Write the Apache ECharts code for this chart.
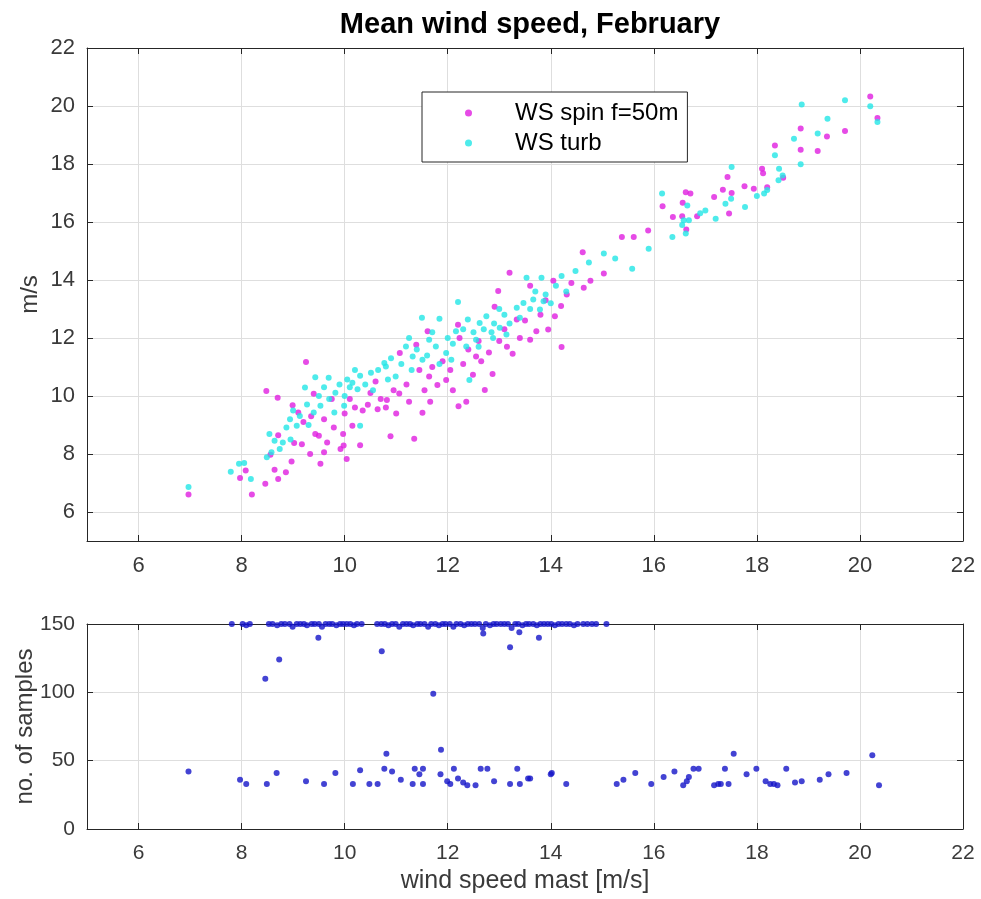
<!DOCTYPE html>
<html>
<head>
<meta charset="utf-8">
<title>Mean wind speed, February</title>
<script src="https://cdn.jsdelivr.net/npm/echarts@6/dist/echarts.min.js"></script>
<style>
html, body { margin: 0; padding: 0; background: #fff; }
#main { width: 981px; height: 899px; }
</style>
</head>
<body>
<div id="main"></div>
<script>
var xTicks = [6, 8, 10, 12, 14, 16, 18, 20, 22];
var wsTicks = [6, 8, 10, 12, 14, 16, 18, 20, 22];
var nTicks = [0, 50, 100, 150];

// [wind speed mast, WS spin f=50m]
var spinPts = [
    [6.97, 6.6], [7.97, 7.17], [8.08, 7.43], [8.2, 6.6], [8.46, 6.97], [8.56, 7.97], [8.64, 7.46],
    [8.71, 7.14], [8.86, 7.37], [8.97, 7.74], [8.71, 8.65], [8.48, 10.17], [8.7, 9.94], [8.99, 9.68],
    [9.1, 9.43], [9.02, 8.38], [9.17, 8.34], [9.2, 9.1], [9.25, 11.17], [9.35, 9.3], [9.4, 10.08],
    [9.33, 8.0], [9.43, 8.69], [9.5, 8.63], [9.53, 7.66], [9.6, 8.06], [9.6, 9.2], [9.66, 8.4],
    [9.75, 9.9], [9.79, 8.91], [9.92, 8.17], [9.97, 8.69], [9.98, 8.29], [10.0, 9.4], [10.04, 7.83],
    [10.1, 9.9], [10.15, 8.97], [10.2, 9.6], [10.3, 8.3], [10.35, 9.5], [10.45, 9.7], [10.5, 10.1],
    [10.6, 10.5], [10.64, 9.54], [10.7, 9.9], [10.8, 9.6], [10.82, 9.86], [10.89, 8.61], [10.95, 10.2],
    [11.0, 9.4], [11.06, 10.09], [11.07, 11.48], [11.2, 10.4], [11.25, 9.8], [11.35, 8.53], [11.39, 11.77],
    [11.45, 10.9], [11.51, 9.42], [11.55, 10.2], [11.61, 12.23], [11.64, 10.67], [11.66, 9.8], [11.7, 11.0],
    [11.8, 10.38], [11.9, 11.2], [11.97, 10.55], [12.05, 10.9], [12.1, 10.2], [12.2, 12.46], [12.21, 9.65],
    [12.23, 12.0], [12.3, 11.1], [12.36, 9.8], [12.4, 11.6], [12.49, 10.73], [12.55, 11.36], [12.6, 11.9],
    [12.65, 11.2], [12.72, 10.21], [12.8, 11.5], [12.87, 10.76], [12.91, 13.08], [12.98, 13.62], [13.0, 11.9],
    [13.1, 12.3], [13.15, 11.7], [13.2, 14.25], [13.26, 11.46], [13.34, 12.64], [13.4, 12.0], [13.5, 12.6],
    [13.6, 11.94], [13.6, 13.8], [13.72, 12.23], [13.8, 12.8], [13.9, 13.3], [13.95, 12.29], [14.05, 13.97],
    [14.08, 12.75], [14.2, 13.1], [14.21, 11.69], [14.31, 13.5], [14.4, 13.9], [14.62, 14.96], [14.64, 13.73],
    [14.77, 13.97], [15.03, 14.22], [15.38, 15.48], [15.61, 15.48], [15.89, 15.71], [16.17, 16.54], [16.37, 16.17],
    [16.55, 16.2], [16.56, 16.66], [16.62, 17.03], [16.63, 15.74], [16.71, 16.98], [16.84, 16.2], [17.17, 16.86],
    [17.34, 17.11], [17.43, 17.55], [17.46, 16.29], [17.51, 17.0], [17.76, 17.23], [17.94, 17.15], [18.1, 17.84],
    [18.12, 17.68], [18.2, 17.2], [18.35, 18.64], [18.51, 17.53], [18.85, 19.22], [18.85, 18.49], [19.18, 18.45],
    [19.36, 18.95], [19.71, 19.14], [20.2, 20.33], [20.34, 19.59]
];

// [wind speed mast, WS turb]
var turbPts = [
    [6.97, 6.86], [7.79, 7.39], [7.95, 7.66], [8.05, 7.69], [8.18, 7.14], [8.49, 7.89], [8.54, 8.69],
    [8.58, 8.06], [8.64, 8.46], [8.74, 8.17], [8.8, 8.4], [8.87, 8.91], [8.94, 9.2], [8.95, 8.5],
    [9.0, 9.5], [9.07, 8.97], [9.13, 9.31], [9.23, 10.29], [9.27, 9.71], [9.3, 9.0], [9.4, 9.43],
    [9.43, 10.65], [9.5, 10.0], [9.53, 9.66], [9.6, 10.3], [9.69, 10.63], [9.7, 9.9], [9.8, 9.43],
    [9.82, 10.11], [9.9, 10.4], [9.99, 9.66], [10.0, 10.0], [10.05, 10.57], [10.1, 10.3], [10.15, 10.46],
    [10.2, 10.9], [10.25, 10.23], [10.3, 10.7], [10.3, 8.97], [10.4, 10.4], [10.51, 10.8], [10.55, 10.2],
    [10.65, 10.9], [10.77, 11.14], [10.8, 11.02], [10.84, 10.57], [10.9, 11.3], [10.99, 10.67], [11.1, 11.1],
    [11.19, 11.71], [11.25, 12.0], [11.3, 10.9], [11.32, 11.36], [11.4, 11.6], [11.5, 12.7], [11.51, 11.25],
    [11.6, 11.4], [11.64, 11.94], [11.7, 12.2], [11.77, 11.71], [11.84, 11.1], [11.84, 12.66], [11.97, 11.48],
    [12.0, 12.0], [12.07, 11.25], [12.1, 11.8], [12.16, 12.23], [12.2, 13.24], [12.3, 12.3], [12.36, 11.71],
    [12.39, 12.64], [12.42, 10.55], [12.5, 12.2], [12.55, 11.94], [12.6, 11.7], [12.62, 12.52], [12.7, 12.3],
    [12.75, 12.75], [12.85, 12.2], [12.88, 12.0], [12.9, 12.5], [13.0, 13.0], [13.01, 12.35], [13.1, 12.8],
    [13.14, 12.12], [13.2, 12.5], [13.34, 13.04], [13.4, 12.7], [13.47, 13.21], [13.53, 14.08], [13.6, 13.0],
    [13.66, 13.33], [13.7, 13.6], [13.79, 12.98], [13.82, 14.08], [13.86, 13.27], [13.9, 13.5], [14.0, 13.2],
    [14.1, 13.8], [14.21, 14.14], [14.3, 13.6], [14.48, 14.31], [14.74, 14.6], [15.03, 14.91], [15.25, 14.74],
    [15.58, 14.39], [15.9, 15.08], [16.16, 16.98], [16.36, 15.48], [16.55, 15.9], [16.58, 16.06], [16.62, 15.6],
    [16.65, 16.57], [16.68, 16.06], [16.9, 16.3], [17.0, 16.4], [17.2, 16.11], [17.39, 16.63], [17.5, 16.8],
    [17.51, 17.9], [17.77, 16.52], [18.0, 16.9], [18.14, 16.98], [18.2, 17.1], [18.35, 18.3], [18.42, 17.44],
    [18.43, 17.84], [18.5, 17.6], [18.72, 18.87], [18.85, 17.99], [18.87, 20.05], [19.18, 19.05], [19.37, 19.56],
    [19.71, 20.2], [20.2, 19.99], [20.34, 19.45]
];

// [wind speed mast, no. of samples]
var samplePts = [
    [7.81, 150], [8.02, 150], [8.09, 149], [8.16, 150], [8.53, 150], [8.6, 150], [8.69, 149], [8.77, 150],
    [8.84, 150], [8.93, 150], [8.99, 148], [9.07, 150], [9.14, 150], [9.21, 150], [9.27, 149], [9.36, 150],
    [9.42, 150], [9.5, 150], [9.56, 148], [9.63, 150], [9.7, 150], [9.76, 150], [9.84, 149], [9.91, 150],
    [9.97, 150], [10.04, 150], [10.11, 150], [10.18, 149], [10.24, 150], [10.33, 150], [10.63, 150], [10.71, 150],
    [10.78, 150], [10.85, 149], [10.92, 150], [10.99, 150], [11.06, 148], [11.13, 150], [11.2, 150], [11.27, 150],
    [11.33, 149], [11.41, 150], [11.47, 150], [11.55, 150], [11.62, 148], [11.68, 150], [11.76, 150], [11.83, 149],
    [11.9, 150], [11.96, 150], [12.04, 150], [12.11, 148], [12.17, 150], [12.25, 150], [12.32, 149], [12.39, 150],
    [12.46, 150], [12.53, 150], [12.61, 150], [12.68, 147], [12.74, 150], [12.82, 149], [12.89, 150], [12.95, 150],
    [13.03, 150], [13.1, 150], [13.17, 150], [13.24, 147], [13.31, 150], [13.37, 150], [13.45, 149], [13.52, 150],
    [13.58, 150], [13.66, 150], [13.73, 149], [13.8, 150], [13.87, 150], [13.94, 150], [14.01, 150], [14.08, 149],
    [14.15, 150], [14.22, 150], [14.3, 150], [14.37, 150], [14.45, 149], [14.52, 150], [14.63, 150], [14.71, 150],
    [14.8, 150], [14.88, 150], [15.08, 150],
    [8.46, 110], [8.73, 124], [9.49, 140], [10.72, 130], [11.72, 99], [12.69, 143], [13.21, 133], [13.39, 144],
    [13.77, 140],
    [6.97, 42], [7.97, 36], [8.09, 33], [8.49, 33], [8.68, 41], [9.25, 35], [9.6, 33], [9.82, 41],
    [10.16, 33], [10.3, 43], [10.48, 33], [10.64, 33], [10.81, 55], [10.77, 44], [10.92, 42], [11.09, 36],
    [11.32, 33], [11.36, 44], [11.45, 40], [11.52, 44], [11.52, 33], [11.87, 58], [11.86, 40], [11.99, 35],
    [12.05, 33], [12.12, 44], [12.2, 37], [12.3, 34], [12.38, 32], [12.54, 32], [12.64, 44], [12.77, 44],
    [12.9, 35], [13.21, 33], [13.35, 44], [13.4, 33], [13.56, 37], [13.6, 37], [14.0, 40], [14.02, 41],
    [14.3, 33], [15.28, 33], [15.41, 36], [15.64, 41], [15.95, 33], [16.19, 38], [16.4, 42], [16.57, 32],
    [16.64, 35], [16.68, 38], [16.77, 44], [16.87, 44], [17.17, 32], [17.25, 33], [17.3, 33], [17.45, 33],
    [17.38, 44], [17.55, 55], [17.8, 40], [17.99, 44], [18.17, 35], [18.26, 33], [18.33, 33], [18.4, 32],
    [18.57, 44], [18.74, 34], [18.87, 35], [19.22, 36], [19.39, 40], [19.74, 41], [20.24, 54], [20.37, 32]
];

var FONT = '"Liberation Sans", Arial, Helvetica, sans-serif';
var AXIS_COLOR = '#262626';
var LABEL_COLOR = '#3a3a3a';
var GRID_COLOR = '#dedede';

function xAxis(gridIndex, position, main, fontSize, name) {
    return {
        type: 'value', gridIndex: gridIndex, position: position, min: 5, max: 22,
        axisLine: { show: true, onZero: false, lineStyle: { color: AXIS_COLOR, width: 1 } },
        axisTick: { show: true, inside: true, length: 6, customValues: xTicks, lineStyle: { color: AXIS_COLOR } },
        axisLabel: { show: main, customValues: xTicks, color: LABEL_COLOR, fontSize: fontSize, fontFamily: FONT, margin: 14 },
        splitLine: { show: main, lineStyle: { color: GRID_COLOR } },
        name: name, nameLocation: 'middle', nameGap: 40,
        nameTextStyle: { color: LABEL_COLOR, fontSize: 25, fontFamily: FONT }
    };
}

function yAxis(gridIndex, position, main, min, max, ticks, fontSize, name, nameGap) {
    return {
        type: 'value', gridIndex: gridIndex, position: position, min: min, max: max,
        axisLine: { show: true, onZero: false, lineStyle: { color: AXIS_COLOR, width: 1 } },
        axisTick: { show: true, inside: true, length: 6, customValues: ticks, lineStyle: { color: AXIS_COLOR } },
        axisLabel: { show: main, customValues: ticks, color: LABEL_COLOR, fontSize: fontSize, fontFamily: FONT, margin: 12 },
        splitLine: { show: main, lineStyle: { color: GRID_COLOR } },
        name: name, nameLocation: 'middle', nameGap: nameGap, nameRotate: 90, nameMoveOverlap: false,
        nameTextStyle: { color: LABEL_COLOR, fontSize: 24, fontFamily: FONT }
    };
}

var chart = echarts.init(document.getElementById('main'));
var option = {
    animation: false,
    backgroundColor: '#fff',
    title: {
        text: 'Mean wind speed, February',
        left: 525, top: 5, textAlign: 'center',
        textStyle: { fontSize: 29, fontWeight: 'bold', color: '#000', fontFamily: FONT }
    },
    legend: {
        data: ['WS spin f=50m', 'WS turb'],
        orient: 'vertical', left: 422, top: 92,
        itemWidth: 83, itemHeight: 7, itemGap: 6, icon: 'circle',
        padding: [9, 9, 7, 43],
        backgroundColor: '#fff', borderColor: AXIS_COLOR, borderWidth: 1, borderRadius: 0,
        textStyle: { color: '#000', fontSize: 24, fontFamily: FONT }
    },
    grid: [
        { left: 87, top: 48, width: 876, height: 493, outerBoundsMode: 'none' },
        { left: 87, top: 624, width: 876, height: 205, outerBoundsMode: 'none' }
    ],
    xAxis: [
        xAxis(0, 'bottom', true, 22, ''),
        xAxis(0, 'top', false, 22, ''),
        xAxis(1, 'bottom', true, 21, 'wind speed mast [m/s]'),
        xAxis(1, 'top', false, 21, '')
    ],
    yAxis: [
        yAxis(0, 'left', true, 5, 22, wsTicks, 22, 'm/s', 45),
        yAxis(0, 'right', false, 5, 22, wsTicks, 22, '', 0),
        yAxis(1, 'left', true, 0, 150, nTicks, 21, 'no. of samples', 50),
        yAxis(1, 'right', false, 0, 150, nTicks, 21, '', 0)
    ],
    series: [
        {
            name: 'WS spin f=50m', type: 'scatter', xAxisIndex: 0, yAxisIndex: 0,
            data: spinPts, symbolSize: 6, itemStyle: { color: '#e01ee0' }
        },
        {
            name: 'WS turb', type: 'scatter', xAxisIndex: 0, yAxisIndex: 0,
            data: turbPts, symbolSize: 6, itemStyle: { color: '#22e6e6' }
        },
        {
            name: 'samples', type: 'scatter', xAxisIndex: 2, yAxisIndex: 2,
            data: samplePts, symbolSize: 6, itemStyle: { color: '#1414c8' }
        }
    ]
};
chart.setOption(option);
</script>
</body>
</html>
